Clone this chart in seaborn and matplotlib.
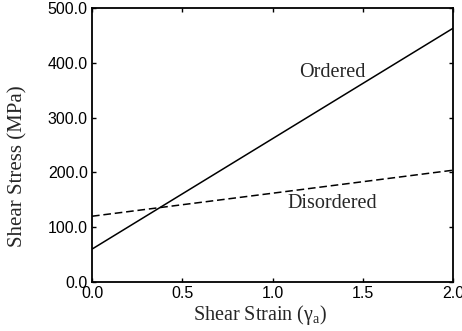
import matplotlib
matplotlib.use("Agg")
import matplotlib.pyplot as plt
import seaborn as sns
import pandas as pd

strain = [0.0, 2.0]
ordered = [60.0, 463.0]
disordered = [120.0, 204.0]
x_ticks = [0.0, 0.5, 1.0, 1.5, 2.0]
y_ticks = [0.0, 100.0, 200.0, 300.0, 400.0, 500.0]

sns.set_style("ticks")
plt.rcParams['font.family'] = ['Liberation Sans', 'DejaVu Sans']
plt.rcParams['mathtext.fontset'] = 'custom'
plt.rcParams['mathtext.rm'] = 'Liberation Serif'
plt.rcParams['mathtext.it'] = 'Liberation Serif:italic'

df = pd.DataFrame({
    "strain": strain * 2,
    "stress": ordered + disordered,
    "phase": ["Ordered"] * 2 + ["Disordered"] * 2,
})

fig = plt.figure(figsize=(4.62, 3.31), dpi=100)
ax = fig.add_axes([92/462, 1 - 282/331, (453-92)/462, (282-8)/331])

sns.lineplot(data=df, x="strain", y="stress", style="phase",
             style_order=["Ordered", "Disordered"],
             dashes={"Ordered": "", "Disordered": (5, 2.5)},
             color="black", linewidth=1.1, ax=ax, legend=False)

ax.set_xlim(0, 2.0)
ax.set_ylim(0, 500)
ax.set_xticks(x_ticks)
ax.set_yticks(y_ticks)
ax.set_xticklabels([f"{v:.1f}" for v in x_ticks], fontsize=11.5)
ax.set_yticklabels([f"{v:.1f}" for v in y_ticks], fontsize=11.5)
ax.tick_params(direction="in", length=3, width=1, top=True, right=True,
               pad=3, colors="black")
for s in ax.spines.values():
    s.set_linewidth(1.3)
    s.set_color("black")

serif = ['Liberation Serif', 'DejaVu Serif']
ax.set_xlabel(r"Shear Strain ($\mathrm{\gamma_a}$)", fontsize=14.5, family=serif)
ax.set_ylabel("Shear Stress (MPa)", fontsize=15, family=serif)
ax.xaxis.set_label_coords(0.465, -0.075)
ax.xaxis.label.set_va("top")
ax.yaxis.set_label_coords(-0.205, 0.423)
ax.yaxis.label.set_va("center")

ax.text(1.33, 383, "Ordered", fontsize=14.5, family=serif, ha="center", va="center")
ax.text(1.33, 144, "Disordered", fontsize=14.5, family=serif, ha="center", va="center")

fig.savefig("out.png", dpi=100)
